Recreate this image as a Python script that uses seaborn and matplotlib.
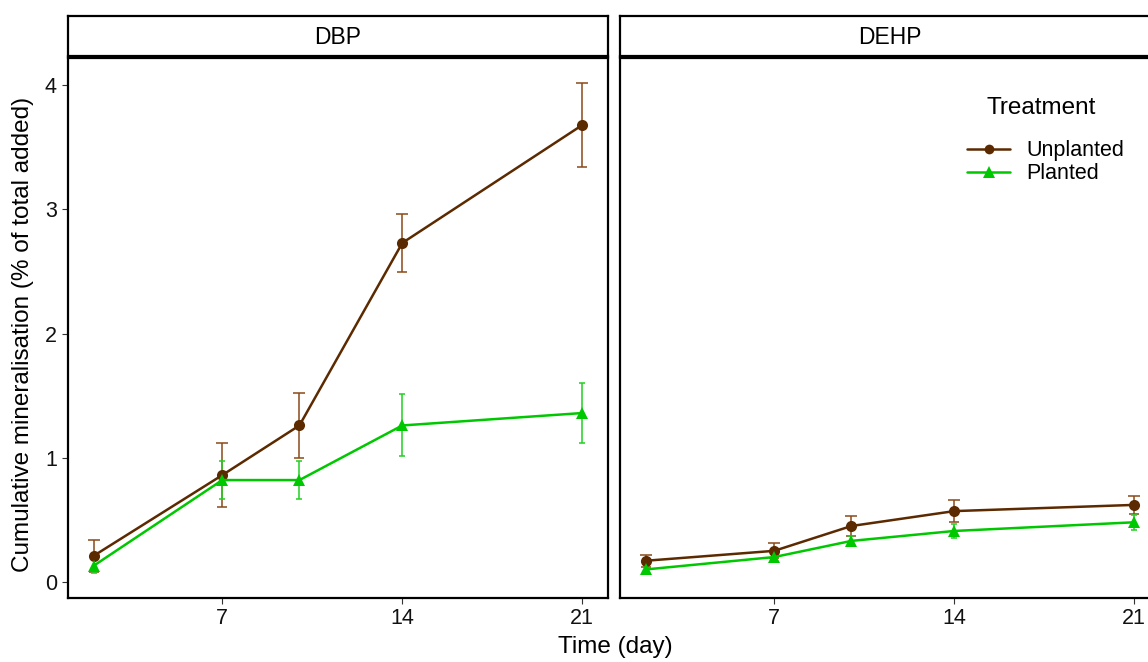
import numpy as np
import pandas as pd
import matplotlib
matplotlib.use("Agg")
import matplotlib.pyplot as plt
import seaborn as sns
from matplotlib.lines import Line2D

# sampling days and treatment groups
days = [2, 7, 10, 14, 21]
compounds = ["DBP", "DEHP"]
treatments = ["Unplanted", "Planted"]

# mean cumulative mineralisation (% of total added) and standard errors
dbp_unplanted = [0.21, 0.86, 1.26, 2.73, 3.68]
dbp_unplanted_se = [0.13, 0.26, 0.26, 0.23, 0.34]
dbp_planted = [0.13, 0.82, 0.82, 1.26, 1.36]
dbp_planted_se = [0.06, 0.15, 0.15, 0.25, 0.24]
dehp_unplanted = [0.17, 0.25, 0.45, 0.57, 0.62]
dehp_unplanted_se = [0.05, 0.06, 0.08, 0.09, 0.07]
dehp_planted = [0.10, 0.20, 0.33, 0.41, 0.48]
dehp_planted_se = [0.03, 0.04, 0.04, 0.06, 0.06]

x_ticks = [7, 14, 21]
y_ticks = [0, 1, 2, 3, 4]

colors = {"Unplanted": "#5C2A00", "Planted": "#00C800"}
err_colors = {"Unplanted": "#8A4A1A", "Planted": "#22D022"}
markers = {"Unplanted": "o", "Planted": "^"}
msizes = {"Unplanted": 7, "Planted": 9}

series = {
    ("DBP", "Unplanted"): (dbp_unplanted, dbp_unplanted_se),
    ("DBP", "Planted"): (dbp_planted, dbp_planted_se),
    ("DEHP", "Unplanted"): (dehp_unplanted, dehp_unplanted_se),
    ("DEHP", "Planted"): (dehp_planted, dehp_planted_se),
}

rows = []
for (comp, treat), (vals, ses) in series.items():
    for d, v, s in zip(days, vals, ses):
        rows.append({"Compound": comp, "Treatment": treat, "Day": d, "Value": v, "SE": s})
df = pd.DataFrame(rows)

sns.set_theme(style="white")
plt.rcParams['font.family'] = ['Liberation Sans', 'DejaVu Sans']
plt.rcParams['text.color'] = 'black'

W, H = 1148, 662
fig = plt.figure(figsize=(W / 100, H / 100), dpi=100)

panel_left = [68, 620]
panel_w = 540
panel_top, panel_bot = 58, 598
strip_top, strip_bot = 16, 56

for i, comp in enumerate(compounds):
    x0 = panel_left[i]
    ax = fig.add_axes([x0 / W, 1 - panel_bot / H, panel_w / W, (panel_bot - panel_top) / H])
    sub = df[df["Compound"] == comp]
    for treat in treatments:
        d = sub[sub["Treatment"] == treat]
        ax.errorbar(d["Day"], d["Value"], yerr=d["SE"], fmt="none",
                    ecolor=err_colors[treat], elinewidth=1.1, capsize=2.5, capthick=1.1, zorder=2)
    sns.lineplot(data=sub, x="Day", y="Value", hue="Treatment", style="Treatment",
                 hue_order=treatments, style_order=treatments, palette=colors,
                 markers=markers, dashes=False, linewidth=1.8, markersize=8,
                 markeredgewidth=0, legend=False, ax=ax, zorder=3)
    # adjust marker sizes per treatment
    for line, treat in zip(ax.get_lines(), treatments):
        line.set_markersize(msizes[treat])

    ax.set_xlim(1.0, 22.0)
    ax.set_ylim(-0.13, 4.22)
    ax.set_xticks(x_ticks)
    ax.set_yticks(y_ticks)
    ax.set_xlabel("")
    ax.set_ylabel("")
    for sp in ax.spines.values():
        sp.set_visible(True)
        sp.set_color("black")
        sp.set_linewidth(1.6)
    ax.tick_params(axis="x", bottom=True, length=4, width=0.8, color="#333333",
                   labelsize=15.5, labelcolor="#111111", pad=3)
    if i == 0:
        ax.tick_params(axis="y", left=True, length=4, width=0.8, color="#333333",
                       labelsize=15.5, labelcolor="#111111", pad=4)
    else:
        ax.tick_params(axis="y", left=False, labelleft=False)

    # facet strip
    sax = fig.add_axes([x0 / W, 1 - strip_bot / H, panel_w / W, (strip_bot - strip_top) / H])
    sax.set_xticks([])
    sax.set_yticks([])
    sax.set_facecolor("white")
    for sp in sax.spines.values():
        sp.set_visible(True)
        sp.set_color("black")
        sp.set_linewidth(1.6)
    sax.text(0.5, 0.45, comp, ha="center", va="center", fontsize=16.5, color="black",
             transform=sax.transAxes)

fig.text(615 / W, 1 - 647 / H, "Time (day)", ha="center", va="center", fontsize=17.5)
fig.text(23 / W, 1 - 334 / H, "Cumulative mineralisation (% of total added)",
         ha="center", va="center", rotation=90, fontsize=17.5)

# legend title drawn separately so its gap to the entries can match
fig.text(1041 / W, 1 - 108 / H, "Treatment", ha="center", va="center", fontsize=17.5)
handles = [Line2D([0], [0], color=colors[t], marker=markers[t], markersize=msizes[t],
                  markeredgewidth=0, linewidth=1.8) for t in treatments]
leg = fig.legend(handles, treatments, loc="upper left",
                 bbox_to_anchor=(950 / W, 1 - 123 / H), frameon=False,
                 fontsize=15.5, handlelength=2.0, borderpad=0.3,
                 labelspacing=0.1, handletextpad=0.75, labelcolor="black")

fig.savefig("out.png", dpi=100)
